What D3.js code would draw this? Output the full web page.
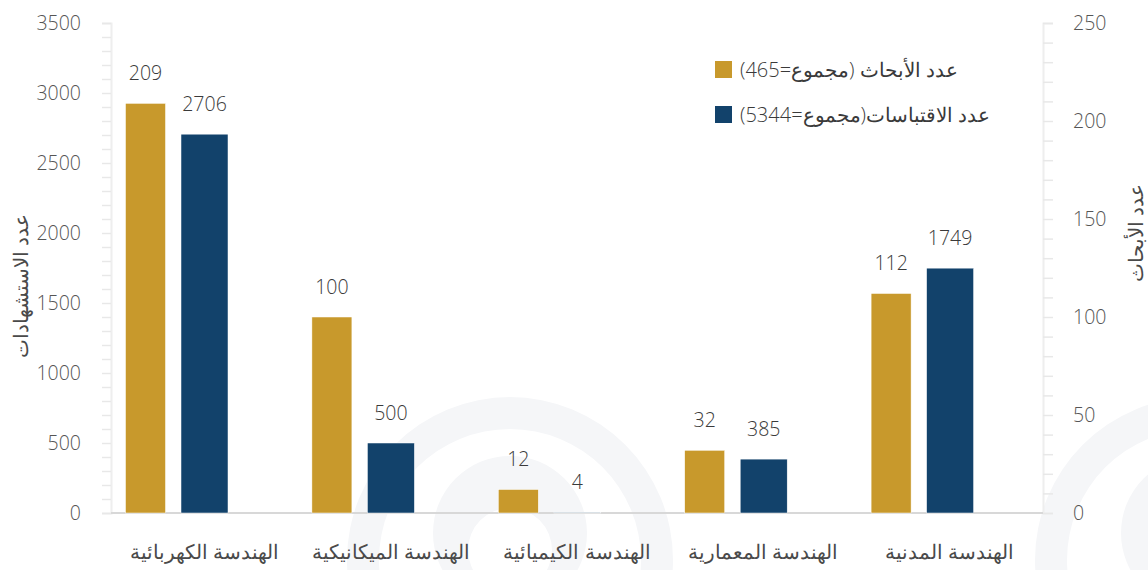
<!DOCTYPE html>
<html lang="ar">
<head>
<meta charset="utf-8">
<script src="https://cdnjs.cloudflare.com/ajax/libs/d3/7.8.5/d3.min.js"></script>
<style>
  body { margin: 0; background: #fff; }
  svg { display: block; font-family: "Open Sans", "DejaVu Sans", sans-serif; }
  .tick text { font-size: 19.5px; fill: #555; font-weight: 300; }
  .value { font-size: 19.5px; fill: #3a3a3a; font-weight: 300; text-anchor: middle; }
  .cat { font-size: 19.5px; fill: #4a4a4a; font-weight: 300; text-anchor: middle; }
  .title { font-size: 19.5px; fill: #4a4a4a; font-weight: 300; }
  .legend text { font-size: 20px; fill: #3a3a3a; font-weight: 300; }
</style>
</head>
<body>
<div id="chart"></div>
<script>
// data
const categories = ['الهندسة الكهربائية', 'الهندسة الميكانيكية', 'الهندسة الكيميائية', 'الهندسة المعمارية', 'الهندسة المدنية'];
const papers = [209, 100, 12, 32, 112];      // right axis
const citations = [2706, 500, 4, 385, 1749]; // left axis
const leftTicks = d3.range(0, 3501, 100);
const rightTicks = d3.range(0, 251, 10);
const legendLabels = ['عدد الأبحاث (مجموع=465)', 'عدد الاقتباسات(مجموع=5344)'];
const leftTitle = 'عدد الاستشهادات';
const rightTitle = 'عدد الأبحاث';

const width = 1148, height = 570;
const plot = {left: 111, right: 1043, top: 23, bottom: 513};
const gold = '#c8992c', navy = '#12426b';

const svg = d3.select('#chart').append('svg')
    .attr('width', width)
    .attr('height', height);

// faint background rings (decoration)
const deco = svg.append('g').attr('fill', '#f5f6f8');
[510, 1198].forEach(cx => {
    const ring = d3.path();
    ring.arc(cx, 560, 163, 0, 2*Math.PI); ring.closePath();
    ring.moveTo(cx + 131, 560); ring.arc(cx, 560, 131, 0, 2*Math.PI); ring.closePath();
    ring.moveTo(cx + 77, 533); ring.arc(cx, 533, 77, 0, 2*Math.PI); ring.closePath();
    ring.moveTo(cx + 42, 550); ring.arc(cx, 550, 42, 0, 2*Math.PI); ring.closePath();
    deco.append('path').attr('d', ring.toString()).attr('fill-rule', 'evenodd');
});

// scales
const x = d3.scaleBand().domain(categories).range([plot.left, plot.right]);
const slot = d3.scaleBand().domain(['papers', 'citations', 'none']).range([5, 182]);
const yLeft = d3.scaleLinear().domain([0, 3500]).range([plot.bottom, plot.top]);
const yRight = d3.scaleLinear().domain([0, 250]).range([plot.bottom, plot.top]);

// axes
const leftAxis = svg.append('g')
    .attr('transform', `translate(${plot.left},0)`)
    .call(d3.axisLeft(yLeft).tickValues(leftTicks).tickSize(9).tickPadding(21)
        .tickFormat(d => d % 500 === 0 ? d : ''));
const rightAxis = svg.append('g')
    .attr('transform', `translate(${plot.right},0)`)
    .call(d3.axisRight(yRight).tickValues(rightTicks).tickSize(10).tickPadding(20)
        .tickFormat(d => d % 50 === 0 ? d : ''));
[leftAxis, rightAxis].forEach(a => {
    a.select('.domain').attr('stroke', '#eeeeee').attr('stroke-width', 2);
    a.selectAll('.tick line').attr('stroke', '#e8e8e8').attr('stroke-width', 1.5);
    a.selectAll('.tick text').attr('font-family', '"Open Sans", sans-serif');
});

// baseline
svg.append('line')
    .attr('x1', plot.left).attr('x2', plot.right)
    .attr('y1', yLeft(0)).attr('y2', yLeft(0))
    .attr('stroke', '#d8d8d8').attr('stroke-width', 2);

// bars
const groups = svg.append('g').selectAll('g.group')
    .data(categories)
    .join('g')
    .classed('group', true)
    .attr('transform', d => `translate(${x(d)},0)`);

const barData = (i) => [
    {key: 'papers', v: papers[i], y: yRight(papers[i]), w: 40, color: gold},
    {key: 'citations', v: citations[i], y: yLeft(citations[i]), w: 47, color: navy}
];

groups.each(function(c, i){
    const g = d3.select(this);
    const bars = barData(i);
    g.selectAll('rect')
        .data(bars)
        .join('rect')
        .attr('x', d => slot(d.key) + slot.bandwidth()/2 - d.w/2)
        .attr('width', d => d.w)
        .attr('y', d => d.y)
        .attr('height', d => plot.bottom - d.y)
        .attr('fill', d => d.color)
        .attr('stroke', '#fff').attr('stroke-width', 0.5);
    g.selectAll('text.value')
        .data(bars)
        .join('text')
        .classed('value', true)
        .attr('x', d => slot(d.key) + slot.bandwidth()/2)
        .attr('y', d => d.y - 23)
        .text(d => d.v);
});

// category labels
svg.append('g').selectAll('text.cat')
    .data(categories)
    .join('text')
    .classed('cat', true)
    .attr('x', d => x(d) + x.bandwidth()/2)
    .attr('y', 559)
    .attr('direction', 'rtl')
    .text(d => d);

// axis titles
svg.append('text').classed('title', true)
    .attr('transform', 'translate(20,286) rotate(-90)')
    .attr('text-anchor', 'middle')
    .attr('dominant-baseline', 'central')
    .attr('direction', 'rtl')
    .text(leftTitle);
svg.append('text').classed('title', true)
    .attr('transform', 'translate(1135,233) rotate(-90)')
    .attr('text-anchor', 'middle')
    .attr('dominant-baseline', 'central')
    .attr('direction', 'rtl')
    .text(rightTitle);

// legend
const legend = svg.append('g').classed('legend', true)
    .selectAll('g')
    .data(legendLabels)
    .join('g')
    .attr('transform', (d, i) => `translate(715,${61 + i*45})`);
legend.append('rect')
    .attr('width', 17).attr('height', 17)
    .attr('fill', (d, i) => i === 0 ? gold : navy);
legend.append('text')
    .attr('x', 25).attr('y', 8.5)
    .attr('dominant-baseline', 'central')
    .attr('direction', 'rtl')
    .attr('text-anchor', 'end')
    .text(d => d);
</script>
</body>
</html>
